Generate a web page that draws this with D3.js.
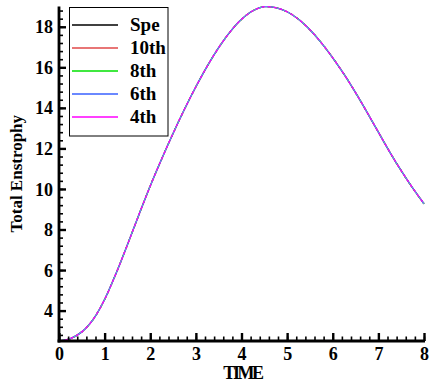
<!DOCTYPE html>
<html>
<head>
<meta charset="utf-8">
<script src="https://cdn.jsdelivr.net/npm/d3@7"></script>
<style>
  html, body { margin: 0; padding: 0; background: #fff; }
  svg { display: block; }
  text { font-family: "Liberation Serif", "Times New Roman", serif; font-weight: bold; fill: #000; }
</style>
</head>
<body>
<svg id="chart" width="430" height="387"></svg>
<script>
// ---- data ----
const times = [0, 0.25, 0.5, 0.75, 1.0, 1.25, 1.5, 1.75, 2.0, 2.25, 2.5, 2.75, 3.0, 3.25, 3.5, 3.75, 4.0, 4.25, 4.5, 4.75, 5.0, 5.25, 5.5, 5.75, 6.0, 6.25, 6.5, 6.75, 7.0, 7.25, 7.5, 7.75, 8.0];
const specValues   = [2.5, 2.62, 2.95, 3.57, 4.55, 5.83, 7.25, 8.72, 10.15, 11.48, 12.74, 13.93, 15.04, 16.06, 16.97, 17.75, 18.37, 18.79, 18.99, 18.94, 18.74, 18.37, 17.85, 17.21, 16.47, 15.65, 14.75, 13.79, 12.8, 11.82, 10.9, 10.05, 9.27];
const tenthValues  = [2.5, 2.62, 2.95, 3.57, 4.55, 5.83, 7.25, 8.72, 10.15, 11.48, 12.74, 13.93, 15.04, 16.06, 16.97, 17.75, 18.37, 18.79, 18.99, 18.94, 18.74, 18.37, 17.85, 17.21, 16.47, 15.65, 14.75, 13.79, 12.8, 11.82, 10.9, 10.05, 9.27];
const eighthValues = [2.5, 2.62, 2.95, 3.57, 4.55, 5.83, 7.25, 8.72, 10.15, 11.48, 12.74, 13.93, 15.04, 16.06, 16.97, 17.75, 18.37, 18.79, 18.99, 18.94, 18.74, 18.37, 17.85, 17.21, 16.47, 15.65, 14.75, 13.79, 12.8, 11.82, 10.9, 10.05, 9.27];
const sixthValues  = [2.5, 2.62, 2.95, 3.57, 4.55, 5.83, 7.25, 8.72, 10.15, 11.48, 12.74, 13.93, 15.04, 16.06, 16.97, 17.75, 18.37, 18.79, 18.99, 18.94, 18.74, 18.37, 17.85, 17.21, 16.47, 15.65, 14.75, 13.79, 12.8, 11.82, 10.9, 10.05, 9.27];
const fourthValues = [2.5, 2.62, 2.95, 3.57, 4.55, 5.83, 7.25, 8.72, 10.15, 11.48, 12.74, 13.93, 15.04, 16.06, 16.97, 17.75, 18.37, 18.79, 18.99, 18.94, 18.74, 18.37, 17.85, 17.21, 16.47, 15.65, 14.75, 13.79, 12.8, 11.82, 10.9, 10.05, 9.27];
const seriesNames = ["Spe", "10th", "8th", "6th", "4th"];
const seriesColors = ["#000000", "#e04848", "#00e000", "#6a88ff", "#ff00ff"];
const xTicks = [0, 1, 2, 3, 4, 5, 6, 7, 8];
const yTicks = [4, 6, 8, 10, 12, 14, 16, 18];

const seriesValues = [specValues, tenthValues, eighthValues, sixthValues, fourthValues];

// ---- scales ----
const svg = d3.select("#chart");
const x = d3.scaleLinear().domain([0, 8]).range([59, 424]);
const y = d3.scaleLinear().domain([2.5, 19]).range([341, 6.5]);

// ---- lines ----
const line = d3.line().x(d => x(d[0])).y(d => y(d[1])).curve(d3.curveCatmullRom.alpha(0.5));
const dashes = [null, "4,4", "2,6", null, "3,3"];
[0, 1, 2, 3, 4].forEach(i => {
  svg.append("path")
    .datum(times.map((t, k) => [t, seriesValues[i][k]]))
    .attr("d", line)
    .attr("fill", "none")
    .attr("stroke", seriesColors[i])
    .attr("stroke-width", 1.3)
    .attr("stroke-dasharray", dashes[i]);
});

// ---- axes ----
const xMinor = d3.range(0, 8.0001, 0.2).map(v => +v.toFixed(2));
const yMinor = d3.range(2.8, 19.0001, 0.4).map(v => +v.toFixed(2));

svg.append("g").attr("transform", `translate(0,${y(2.5)})`)
  .call(d3.axisTop(x).tickValues(xMinor).tickSize(4.5).tickFormat(""))
  .call(g => g.select(".domain").remove())
  .call(g => g.selectAll("line").attr("stroke-width", 1.6));
const gx = svg.append("g").attr("transform", `translate(0,${y(2.5)})`)
  .call(d3.axisTop(x).tickValues(xTicks).tickSize(8).tickFormat(d3.format("d")))
  .call(g => g.select(".domain").remove())
  .call(g => g.selectAll("line").attr("stroke-width", 2.4));
gx.selectAll("text").attr("y", 19).attr("dy", 0).style("font-size", "18px").style("font-family", "Liberation Serif").style("font-weight", "bold");

svg.append("g").attr("transform", `translate(${x(0)},0)`)
  .call(d3.axisRight(y).tickValues(yMinor).tickSize(4).tickFormat(""))
  .call(g => g.select(".domain").remove())
  .call(g => g.selectAll("line").attr("stroke-width", 1.6));
const gy = svg.append("g").attr("transform", `translate(${x(0)},0)`)
  .call(d3.axisRight(y).tickValues(yTicks).tickSize(7).tickFormat(d3.format("d")))
  .call(g => g.select(".domain").remove())
  .call(g => g.selectAll("line").attr("stroke-width", 2.4));
gy.selectAll("text").attr("x", -6).attr("dy", "0.34em").attr("text-anchor", "end")
  .style("font-size", "18px").style("font-family", "Liberation Serif").style("font-weight", "bold");

svg.append("line").attr("x1", x(0)).attr("x2", x(0)).attr("y1", y(19)).attr("y2", y(2.5) + 1.4)
  .attr("stroke", "#000").attr("stroke-width", 2.8);
svg.append("line").attr("x1", x(0) - 1.4).attr("x2", x(8) + 1).attr("y1", y(2.5)).attr("y2", y(2.5))
  .attr("stroke", "#000").attr("stroke-width", 2.8);

// axis titles
svg.append("text").attr("x", (x(0) + x(8)) / 2 + 1).attr("y", 379)
  .attr("text-anchor", "middle").style("font-size", "18px").style("letter-spacing", "-2.4px")
  .text("TIME");
svg.append("text").attr("transform", `translate(22,${(y(19) + y(2.5)) / 2}) rotate(-90)`)
  .attr("text-anchor", "middle").style("font-size", "17px")
  .text("Total Enstrophy");

// ---- legend ----
const legend = svg.append("g");
legend.append("rect").attr("x", 69.5).attr("y", 7.5).attr("width", 98.5).attr("height", 128.5)
  .attr("fill", "#fff").attr("stroke", "#000").attr("stroke-width", 1);
const rowY = d3.scalePoint().domain(seriesNames).range([25, 117]);
seriesNames.forEach((name, i) => {
  const yy = rowY(name);
  legend.append("line").attr("x1", 72).attr("x2", 118).attr("y1", yy).attr("y2", yy)
    .attr("stroke", seriesColors[i]).attr("stroke-width", i === 3 ? 1.8 : 1.3);
  legend.append("text").attr("x", 130).attr("y", yy).attr("dy", "0.33em")
    .style("font-size", "19px").text(name);
});
</script>
</body>
</html>
